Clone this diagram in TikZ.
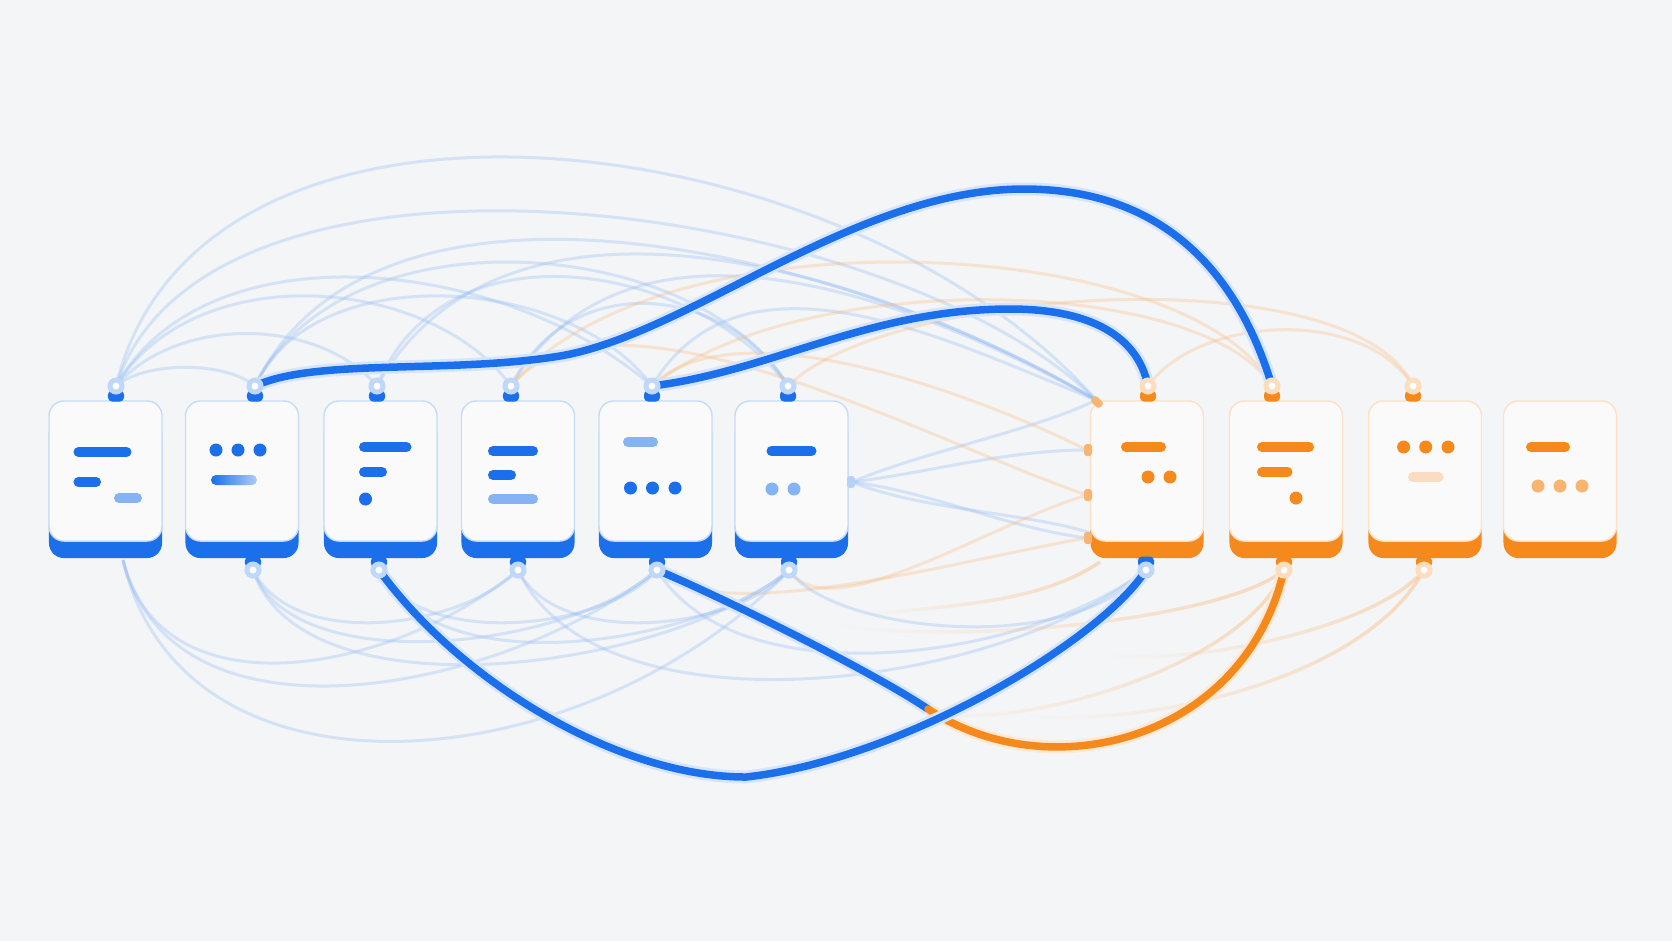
\documentclass[tikz,border=0pt]{standalone}
\usetikzlibrary{shadows, calc, fadings}

\definecolor{cblue}{HTML}{1B6FEA}
\definecolor{cbluel}{HTML}{86B3F4}
\definecolor{corange}{HTML}{F5891C}
\definecolor{corangel}{HTML}{F8B470}
\definecolor{corangexl}{HTML}{FADDC0}
\definecolor{bgc}{HTML}{F4F5F7}
\definecolor{facec}{HTML}{FAFAFB}

\begin{document}
\begin{tikzpicture}[x=0.01cm, y=-0.01cm,
  bcard/.style ={draw=cblue!25, fill=facec, rounded corners=0.15cm, inner sep=0pt,
                 minimum width=1.13cm, minimum height=1.40cm,
                 general shadow={shadow xshift=0pt, shadow yshift=-0.17cm, fill=cblue}},
  ocard/.style ={draw=corange!25, fill=facec, rounded corners=0.15cm, inner sep=0pt,
                 minimum width=1.13cm, minimum height=1.40cm,
                 general shadow={shadow xshift=0pt, shadow yshift=-0.17cm, fill=corange}},
  btab/.style  ={fill=cblue, rounded corners=0.04cm, inner sep=0pt,
                 minimum width=0.16cm, minimum height=0.11cm},
  otab/.style  ={fill=corange, rounded corners=0.04cm, inner sep=0pt,
                 minimum width=0.16cm, minimum height=0.11cm},
  sidetab/.style={fill=corangel, rounded corners=0.03cm, inner sep=0pt,
                 minimum width=0.08cm, minimum height=0.12cm},
  bglow/.style ={circle, fill=white, draw=cblue!28, line width=0.05cm, inner sep=0pt,
                 minimum size=0.12cm},
  oglow/.style ={circle, fill=white, draw=corange!28, line width=0.05cm, inner sep=0pt,
                 minimum size=0.12cm},
  bwire/.style ={draw=cblue, line width=0.075cm, line cap=round,
                 preaction={draw=cblue!18, line width=0.13cm}},
  owire/.style ={draw=corange, line width=0.075cm, line cap=round,
                 preaction={draw=corange!18, line width=0.13cm}},
  bfaint/.style={draw=cblue!50, line width=0.03cm, opacity=0.3},
  ofaint/.style={draw=corange!60, line width=0.03cm, opacity=0.3},
  ofade/.style ={draw=corange!60, line width=0.035cm, opacity=0.45, path fading=west},
  bbar/.style  ={draw=cblue, line width=0.1cm, line cap=round},
  bbarl/.style ={draw=cbluel, line width=0.1cm, line cap=round},
  obar/.style  ={draw=corange, line width=0.1cm, line cap=round},
  obarl/.style ={draw=corangexl, line width=0.1cm, line cap=round},
]

\useasboundingbox (0,0) rectangle (1672,941);
\fill[bgc] (0,0) rectangle (1672,941);

%% ---- Port positions ----
\coordinate (t1) at (116,386);  \coordinate (t2) at (255,386);
\coordinate (t3) at (377,386);  \coordinate (t4) at (511,386);
\coordinate (t5) at (652,386);  \coordinate (t6) at (788,386);
\coordinate (t7) at (1148,386); \coordinate (t8) at (1272,386);
\coordinate (t9) at (1413,386);
\coordinate (b1) at (123,560);  \coordinate (b2) at (253,570);
\coordinate (b3) at (379,570);  \coordinate (b4) at (518,570);
\coordinate (b5) at (657,570);  \coordinate (b6) at (789,570);
\coordinate (b7) at (1146,570); \coordinate (b8) at (1284,570);
\coordinate (b9) at (1424,570);
\coordinate (s6) at (852,482);
\coordinate (k7) at (1096,400);
\coordinate (l1) at (1087,450); \coordinate (l2) at (1087,495);
\coordinate (l3) at (1087,538);
\coordinate (m7) at (1100,562);
\coordinate (of1) at (930,712); \coordinate (of2) at (840,625);
\coordinate (of3) at (1030,716); \coordinate (of4) at (1110,655);
\coordinate (of5) at (860,615);

%% ---- Faint links, top ----
\draw[bfaint] (t1) .. controls +(84,-346) and +(-246,-280) .. (k7);
\draw[bfaint] (t1) .. controls +(90,-280) and +(-200,-200) .. (k7);
\draw[bfaint] (t1) .. controls +(90,-160) and +(-150,-130) .. (t5);
\draw[bfaint] (t1) .. controls +(80,-130) and +(-80,-110) .. (t4);
\draw[bfaint] (t1) .. controls +(60,-70) and +(-60,-70) .. (t3);
\draw[bfaint] (t1) .. controls +(30,-25) and +(-30,-25) .. (t2);
\draw[bfaint] (t2) .. controls +(120,-250) and +(-250,-150) .. (k7);
\draw[bfaint] (t2) .. controls +(60,-130) and +(-80,-110) .. (t5);
\draw[bfaint] (t2) .. controls +(90,-180) and +(-90,-150) .. (t6);
\draw[bfaint] (t3) .. controls +(70,-170) and +(-90,-120) .. (t6);
\draw[bfaint] (t3) .. controls +(130,-230) and +(-220,-130) .. (k7);
\draw[bfaint] (t4) .. controls +(120,-200) and +(-180,-100) .. (k7);
\draw[bfaint] (t4) .. controls +(60,-120) and +(-60,-100) .. (t6);
\draw[bfaint] (t5) .. controls +(90,-150) and +(-150,-60) .. (k7);
\draw[ofaint] (t4) .. controls +(150,-180) and +(-80,-150) .. (t8);
\draw[ofaint] (t5) .. controls +(150,-120) and +(-70,-110) .. (t8);
\draw[ofaint] (t6) .. controls +(100,-100) and +(-60,-130) .. (t9);
\draw[ofaint] (t7) .. controls +(50,-70) and +(-50,-80) .. (t9);

%% ---- Faint links, between the groups ----
\draw[bfaint] (s6) .. controls +(80,-10) and +(-80,0) .. (l1);
\draw[bfaint] (s6) .. controls +(80,10) and +(-80,-10) .. (l3);
\draw[bfaint] (s6) .. controls +(70,-30) and +(-60,30) .. (k7);
\draw[bfaint] (s6) .. controls +(100,40) and +(-30,-60) .. (b7);
\draw[ofaint] (l1) .. controls +(-120,-60) and +(80,-80) .. (t5);
\draw[ofaint] (l2) .. controls +(-150,-50) and +(100,-120) .. (t4);
\draw[ofaint] (l3) .. controls +(-120,20) and +(60,60) .. (b5);
\draw[ofaint] (l2) .. controls +(-100,30) and +(40,60) .. (b6);

%% ---- Faint links, bottom ----
\draw[bfaint] (b1) .. controls +(60,260) and +(-200,210) .. (b6);
\draw[bfaint] (b1) .. controls +(50,200) and +(-150,120) .. (b5);
\draw[bfaint] (b1) .. controls +(40,160) and +(-120,100) .. (b4);
\draw[bfaint] (b2) .. controls +(50,150) and +(-120,100) .. (b6);
\draw[bfaint] (b2) .. controls +(40,110) and +(-90,80) .. (b5);
\draw[bfaint] (b2) .. controls +(40,80) and +(-60,60) .. (b4);
\draw[bfaint] (b3) .. controls +(60,120) and +(-80,70) .. (b6);
\draw[bfaint] (b3) .. controls +(40,80) and +(-50,60) .. (b5);
\draw[bfaint] (b4) .. controls +(80,170) and +(-150,120) .. (b7);
\draw[bfaint] (b4) .. controls +(40,80) and +(-50,60) .. (b6);
\draw[bfaint] (b5) .. controls +(80,130) and +(-120,90) .. (b7);
\draw[bfaint] (b6) .. controls +(40,60) and +(-80,90) .. (b7);
\draw[ofade] (b8) .. controls +(-40,100) and +(80,20) .. (of1);
\draw[ofade] (b8) .. controls +(-60,50) and +(120,20) .. (of2);
\draw[ofade] (b9) .. controls +(-60,110) and +(120,10) .. (of3);
\draw[ofade] (b9) .. controls +(-50,60) and +(80,10) .. (of4);
\draw[ofade] (m7) .. controls +(-60,40) and +(100,-10) .. (of5);

%% ---- Bold links ----
\coordinate (a1) at (560,356);
\coordinate (a2) at (1024,189);
\coordinate (bpk) at (1010,309);
\coordinate (cbot) at (746,777);
\coordinate (dx) at (928,709);
\draw[bwire] (t2) .. controls +(60,-28) and +(-110,18) .. (a1)
                  .. controls +(130,-22) and +(-170,0) .. (a2)
                  .. controls +(150,0) and +(-30,-100) .. (t8);
\draw[bwire] (t5) .. controls +(120,-15) and +(-140,0) .. (bpk)
                  .. controls +(80,0) and +(-10,-50) .. (t7);
\draw[bwire] (b5) .. controls +(60,25) and +(-60,-40) .. (dx);
\draw[owire] (dx) .. controls +(122,81) and +(-39,170) .. (b8);
\draw[bwire] (b3) .. controls +(80,110) and +(-130,0) .. (cbot)
                  .. controls +(154,-17) and +(-46,72) .. (b7);

%% ---- Cards ----
\node[bcard] (c1)  at (105.5,471) {};
\node[bcard] (c2)  at (242,471)   {};
\node[bcard] (c3)  at (380.5,471) {};
\node[bcard] (c4)  at (518,471)   {};
\node[bcard] (c5)  at (655.5,471) {};
\node[bcard] (c6)  at (791.5,471) {};
\node[ocard] (c7)  at (1147,471)  {};
\node[ocard] (c8)  at (1286,471)  {};
\node[ocard] (c9)  at (1425,471)  {};
\node[ocard] (c10) at (1560,471)  {};

%% ---- Card marks ----
\begin{scope}[shift={(c1)}]
  \draw[bbar]  (-27,-19) -- (21,-19);
  \draw[bbar]  (-27,11) -- (-9.5,11);
  \draw[bbarl] (13.5,27) -- (31.5,27);
\end{scope}
\begin{scope}[shift={(c2)}]
  \fill[cblue] (-26,-21) circle[radius=0.065cm] (-4,-21) circle[radius=0.065cm]
               (18,-21) circle[radius=0.065cm];
  \shade[left color=cblue, right color=cblue!35, rounded corners=0.05cm] (-31,4) rectangle (15,14);
\end{scope}
\begin{scope}[shift={(c3)}]
  \draw[bbar] (-16.5,-24) -- (26,-24);
  \draw[bbar] (-16.5,1) -- (1.5,1);
  \fill[cblue] (-15,28) circle[radius=0.065cm];
\end{scope}
\begin{scope}[shift={(c4)}]
  \draw[bbar]  (-25,-20) -- (15,-20);
  \draw[bbar]  (-25,4) -- (-7,4);
  \draw[bbarl] (-25,28) -- (15,28);
\end{scope}
\begin{scope}[shift={(c5)}]
  \draw[bbarl] (-27.5,-29) -- (-2.5,-29);
  \fill[cblue] (-25,17) circle[radius=0.065cm] (-3,17) circle[radius=0.065cm]
               (19.5,17) circle[radius=0.065cm];
\end{scope}
\begin{scope}[shift={(c6)}]
  \draw[bbar] (-20,-20) -- (20,-20);
  \fill[cbluel] (-19.5,18) circle[radius=0.065cm] (2.5,18) circle[radius=0.065cm];
\end{scope}
\begin{scope}[shift={(c7)}]
  \draw[obar] (-21,-24) -- (14,-24);
  \fill[corange] (1,6) circle[radius=0.065cm] (23,6) circle[radius=0.065cm];
\end{scope}
\begin{scope}[shift={(c8)}]
  \draw[obar] (-24,-24) -- (23,-24);
  \draw[obar] (-24,1) -- (1.5,1);
  \fill[corange] (10,27) circle[radius=0.065cm];
\end{scope}
\begin{scope}[shift={(c9)}]
  \fill[corange] (-21.4,-24) circle[radius=0.065cm] (0.7,-24) circle[radius=0.065cm]
                 (23,-24) circle[radius=0.065cm];
  \draw[obarl] (-12,6) -- (13.6,6);
\end{scope}
\begin{scope}[shift={(c10)}]
  \draw[obar] (-29,-24) -- (5,-24);
  \fill[corangel] (-22,15) circle[radius=0.065cm] (0,15) circle[radius=0.065cm]
                  (22,15) circle[radius=0.065cm];
\end{scope}

%% ---- Ports ----
\node[btab] (t1s) at (116,396)  {};  \node[btab] (t2s) at (255,396)  {};
\node[btab] (t3s) at (377,396)  {};  \node[btab] (t4s) at (511,396)  {};
\node[btab] (t5s) at (652,396)  {};  \node[btab] (t6s) at (788,396)  {};
\node[otab] (t7s) at (1148,396) {};  \node[otab] (t8s) at (1272,396) {};
\node[otab] (t9s) at (1413,396) {};
\node[btab] (b2s) at (253,562)  {};  \node[btab] (b3s) at (379,562)  {};
\node[btab] (b4s) at (518,562)  {};  \node[btab] (b5s) at (657,562)  {};
\node[btab] (b6s) at (789,562)  {};
\node[btab] (b7s) at (1146,562) {};  \node[otab] (b8s) at (1284,562) {};
\node[otab] (b9s) at (1424,562) {};
\node[sidetab, fill=cbluel!60] (s6s) at (851,482) {};
\node[sidetab] (l1s) at (1088,450) {};
\node[sidetab] (l2s) at (1088,495) {};
\node[sidetab] (l3s) at (1088,538) {};
\node[sidetab, rotate=45] (k7s) at (1097,402) {};

\node[bglow] (g1) at (t1) {};  \node[bglow] (g2) at (t2) {};
\node[bglow] (g3) at (t3) {};  \node[bglow] (g4) at (t4) {};
\node[bglow] (g5) at (t5) {};  \node[bglow] (g6) at (t6) {};
\node[oglow] (g7) at (t7) {};  \node[oglow] (g8) at (t8) {};
\node[oglow] (g9) at (t9) {};
\node[bglow] (h2) at (b2) {};  \node[bglow] (h3) at (b3) {};
\node[bglow] (h4) at (b4) {};  \node[bglow] (h5) at (b5) {};
\node[bglow] (h6) at (b6) {};  \node[bglow] (h7) at (b7) {};
\node[oglow] (h8) at (b8) {};  \node[oglow] (h9) at (b9) {};

\end{tikzpicture}
\end{document}
